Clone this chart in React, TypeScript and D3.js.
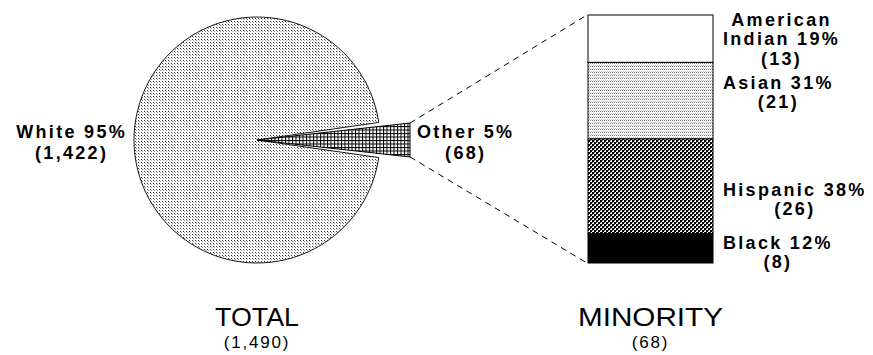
import React, { useEffect, useRef } from "react";
import * as d3 from "d3";

// ---- data ----
const totalCategories = ["White", "Other"];
const totalCounts = [1422, 68];
const totalPct = [95, 5];
const totalCountLabels = ["(1,422)", "(68)"];

const minorityCategories = ["American Indian", "Asian", "Hispanic", "Black"];
const minorityNameLines = [["American", "Indian"], ["Asian"], ["Hispanic"], ["Black"]];
const minorityCounts = [13, 21, 26, 8];
const minorityPct = [19, 31, 38, 12];

const panelTitles = ["TOTAL", "MINORITY"];
const panelTotals = ["(1,490)", "(68)"];

const W = 873;
const H = 355;
const FONT = "'Liberation Sans', Arial, Helvetica, sans-serif";

export default function App() {
  const ref = useRef<SVGSVGElement>(null);

  useEffect(() => {
    document.body.style.margin = "0";
    const svg = d3.select(ref.current);
    svg.selectAll("*").remove();

    // ---- patterns ----
    const defs = svg.append("defs");
    const mkPat = (id: string, w: number, h: number) => {
      const p = defs
        .append("pattern")
        .attr("id", id)
        .attr("width", w)
        .attr("height", h)
        .attr("patternUnits", "userSpaceOnUse");
      p.append("rect").attr("width", w).attr("height", h).attr("fill", "#fff");
      return p;
    };
    const stip = mkPat("stipple", 3, 3);
    stip.append("rect").attr("x", 1).attr("y", 1).attr("width", 1).attr("height", 1).attr("fill", "#3a3a3a");
    stip.append("rect").attr("x", 2).attr("y", 2).attr("width", 1).attr("height", 1).attr("fill", "#999");
    const stip2 = mkPat("stipple2", 2, 3);
    stip2.append("rect").attr("x", 0).attr("y", 0).attr("width", 1).attr("height", 1).attr("fill", "#777");
    stip2.append("rect").attr("x", 1).attr("y", 2).attr("width", 1).attr("height", 1).attr("fill", "#c4c4c4");
    const xh = mkPat("xhatch", 4, 4);
    xh.append("rect").attr("x", 0).attr("y", 0).attr("width", 2).attr("height", 2).attr("fill", "#000");
    xh.append("rect").attr("x", 2).attr("y", 2).attr("width", 2).attr("height", 2).attr("fill", "#000");
    xh.append("rect").attr("x", 2).attr("y", 0).attr("width", 1).attr("height", 1).attr("fill", "#444");
    xh.append("rect").attr("x", 0).attr("y", 2).attr("width", 1).attr("height", 1).attr("fill", "#444");
    const grid = mkPat("grid", 3.5, 3.5);
    grid.append("rect").attr("x", 0).attr("y", 0).attr("width", 3.5).attr("height", 1).attr("fill", "#000");
    grid.append("rect").attr("x", 0).attr("y", 0).attr("width", 1).attr("height", 3.5).attr("fill", "#000");

    // ---- pie ----
    const cx = 257, cy = 140, r = 123;
    const sumTotal = d3.sum(totalCounts);
    const halfOther = Math.PI * (totalCounts[1] / sumTotal);
    const start = Math.PI / 2 + halfOther;
    const pie = d3.pie<number>().sort(null).startAngle(start).endAngle(start + 2 * Math.PI);
    const arcs = pie(totalCounts);
    const arc = d3.arc<d3.PieArcDatum<number>>().innerRadius(0).outerRadius(r);

    const g = svg.append("g").attr("transform", `translate(${cx},${cy})`);
    g.append("path")
      .attr("d", arc(arcs[0]) as string)
      .attr("fill", "url(#stipple)")
      .attr("stroke", "#000")
      .attr("stroke-width", 0.9);

    // exploded narrow wedge for "Other"
    const o = arcs[1];
    const mid = (o.startAngle + o.endAngle) / 2;
    const half = ((o.endAngle - o.startAngle) / 2) * 0.77;
    const L = r * 1.244;
    const pt = (a: number, rho: number): [number, number] => [rho * Math.sin(a), -rho * Math.cos(a)];
    const pTop = pt(mid - half, L / Math.cos(half));
    const pBot = pt(mid + half, L / Math.cos(half));
    const wedgeLine = d3.line();
    g.append("path")
      .attr("d", wedgeLine([[0, 0], pTop, pBot]) + "Z")
      .attr("fill", "url(#grid)")
      .attr("stroke", "#000")
      .attr("stroke-width", 1);

    // ---- stacked minority bar ----
    const barX0 = 588, barX1 = 713;
    const y = d3.scaleLinear().domain([0, d3.sum(minorityCounts)]).range([15, 263]);
    const cum = [0, ...Array.from(d3.cumsum(minorityCounts))];
    const fills = ["#fff", "url(#stipple2)", "url(#xhatch)", "#000"];

    // dashed connectors
    const dash = svg.append("g").attr("stroke", "#000").attr("stroke-width", 1).attr("stroke-dasharray", "6,5").attr("fill", "none");
    dash.append("line")
      .attr("x1", cx + pTop[0]).attr("y1", cy + pTop[1])
      .attr("x2", barX0 - 1).attr("y2", y(0));
    dash.append("line")
      .attr("x1", cx + pBot[0]).attr("y1", cy + pBot[1])
      .attr("x2", barX0 - 1).attr("y2", y(cum[cum.length - 1]));

    svg.append("g")
      .selectAll("rect")
      .data(minorityCounts)
      .join("rect")
      .attr("x", barX0)
      .attr("width", barX1 - barX0)
      .attr("y", (_, i) => y(cum[i]))
      .attr("height", (_, i) => y(cum[i + 1]) - y(cum[i]))
      .attr("fill", (_, i) => fills[i])
      .attr("stroke", "#000")
      .attr("stroke-width", 1);

    // ---- labels ----
    const lab = svg.append("g").attr("font-family", FONT).attr("font-weight", "bold").attr("font-size", 18).attr("letter-spacing", 2.3).attr("fill", "#000");

    const measure = (s: string) => {
      const t = lab.append("text").text(s);
      const w = (t.node() as SVGTextElement).getComputedTextLength();
      t.remove();
      return w;
    };

    const block = (lines: string[], x: number, b1: number, lh: number, align: "start" | "end") => {
      const widths = lines.slice(0, -1).map(measure);
      const wMax = d3.max(widths) as number;
      const center = align === "start" ? x + wMax / 2 : x - wMax / 2;
      lines.forEach((s, k) => {
        lab.append("text")
          .attr("x", center)
          .attr("y", b1 + k * lh)
          .attr("text-anchor", "middle")
          .text(s);
      });
    };

    // pie labels
    block([`${totalCategories[0]} ${totalPct[0]}%`, totalCountLabels[0]], cx - r - 7, cy - 2, 21, "end");
    block([`${totalCategories[1]} ${totalPct[1]}%`, totalCountLabels[1]], cx + pTop[0] + 7, cy - 2, 21, "start");

    // bar labels
    const nudges = [1.5, -7, 14, 5];
    const lh = 19.5;
    minorityCategories.forEach((_, i) => {
      const nl = minorityNameLines[i].slice();
      nl[nl.length - 1] = `${nl[nl.length - 1]} ${minorityPct[i]}%`;
      const lines = [...nl, `(${minorityCounts[i]})`];
      const segMid = (y(cum[i]) + y(cum[i + 1])) / 2 + nudges[i];
      const b1 = segMid - ((lines.length - 1) * lh - 10) / 2;
      block(lines, barX1 + 10, b1, lh, "start");
    });

    // panel titles
    const titleX = [cx, (barX0 + barX1) / 2];
    const titleLen = [84, 145];
    const tg = svg.append("g").attr("font-family", FONT).attr("fill", "#000").attr("text-anchor", "middle");
    panelTitles.forEach((t, i) => {
      tg.append("text")
        .attr("x", titleX[i])
        .attr("y", 326)
        .attr("font-size", 25)
        .attr("textLength", titleLen[i])
        .attr("lengthAdjust", "spacingAndGlyphs")
        .text(t);
      tg.append("text")
        .attr("x", titleX[i])
        .attr("y", 348)
        .attr("font-size", 17)
        .attr("letter-spacing", 1.8)
        .text(panelTotals[i]);
    });
  }, []);

  return <svg ref={ref} width={W} height={H} style={{ display: "block", background: "#fff" }} />;
}
